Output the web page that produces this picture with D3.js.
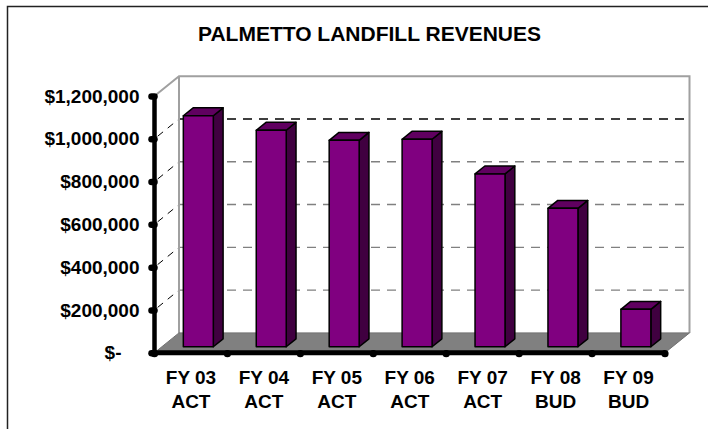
<!DOCTYPE html>
<html>
<head>
<meta charset="utf-8">
<script src="https://cdn.jsdelivr.net/npm/d3@7"></script>
<style>
  body { margin: 0; background: #fff; }
  text { font-family: "Liberation Sans", Arial, sans-serif; font-weight: bold; fill: #000; }
</style>
</head>
<body>
<div id="chart"></div>
<script>
// Data
var categories = ["FY 03", "FY 04", "FY 05", "FY 06", "FY 07", "FY 08", "FY 09"];
var periods = ["ACT", "ACT", "ACT", "ACT", "ACT", "BUD", "BUD"];
var revenues = [1080000, 1012000, 965000, 970000, 808000, 647000, 175000];
var yTicks = [0, 200000, 400000, 600000, 800000, 1000000, 1200000];

var width = 708, height = 429;

// front plane of the 3D box and the depth offset
var plotLeft = 154.5, plotRight = 665, plotBottom = 352.7, plotTop = 96;
var depthX = 24.5, depthY = -19.8;
var f0 = 0.3, f1 = 0.7; // bar depth span (fraction of floor depth)

var svg = d3.select("#chart").append("svg")
  .attr("width", width)
  .attr("height", height);

// outer frame (only top/left visible in the picture)
svg.append("rect")
  .attr("x", 7.5).attr("y", 6.5)
  .attr("width", 740).attr("height", 460)
  .attr("fill", "none")
  .attr("stroke", "#222")
  .attr("stroke-width", 1.5);

svg.append("text")
  .attr("x", 369.5).attr("y", 41)
  .attr("text-anchor", "middle")
  .style("font-size", "21px")
  .text("PALMETTO LANDFILL REVENUES");

var x = d3.scaleBand()
  .domain(categories)
  .range([plotLeft, plotRight])
  .paddingInner(0.589)
  .paddingOuter(0.589 / 2);

var y = d3.scaleLinear()
  .domain([0, 1200000])
  .range([plotBottom, plotTop]);

// back wall
var wall = svg.append("g");
wall.append("rect")
  .attr("x", plotLeft + depthX).attr("y", y(1200000) + depthY)
  .attr("width", plotRight - plotLeft).attr("height", plotBottom - plotTop)
  .attr("fill", "#fff");

// gridlines on back wall and side wall
yTicks.slice(1, -1).forEach(function (v) {
  var col = v === 1000000 ? "#000" : "#808080";
  wall.append("line")
    .attr("x1", plotLeft + depthX).attr("x2", plotRight + depthX)
    .attr("y1", y(v) + depthY).attr("y2", y(v) + depthY)
    .attr("stroke", col)
    .attr("stroke-width", 1.4)
    .attr("stroke-dasharray", "9,7");
  wall.append("line")
    .attr("x1", plotLeft).attr("x2", plotLeft + depthX)
    .attr("y1", y(v)).attr("y2", y(v) + depthY)
    .attr("stroke", "#000")
    .attr("stroke-width", 1)
    .attr("stroke-dasharray", "7,6")
    .attr("stroke-dashoffset", -4);
});

// wall outline: side top edge, left/top/right edges of back wall
wall.append("path")
  .attr("d", "M" + plotLeft + "," + plotTop +
    "L" + (plotLeft + depthX) + "," + (plotTop + depthY) +
    "L" + (plotRight + depthX) + "," + (plotTop + depthY) +
    "L" + (plotRight + depthX) + "," + (plotBottom + depthY) +
    "M" + (plotLeft + depthX) + "," + (plotTop + depthY) +
    "L" + (plotLeft + depthX) + "," + (plotBottom + depthY))
  .attr("fill", "none")
  .attr("stroke", "#a0a0a0")
  .attr("stroke-width", 2);

// floor
svg.append("polygon")
  .attr("points", [
    [plotLeft, plotBottom], [plotRight, plotBottom],
    [plotRight + depthX, plotBottom + depthY], [plotLeft + depthX, plotBottom + depthY]
  ].join(" "))
  .attr("fill", "#808080")
  .attr("stroke", "#707070")
  .attr("stroke-width", 1);

// bars
var bw = x.bandwidth();
var ddx = depthX * (f1 - f0), ddy = depthY * (f1 - f0);
var bars = svg.append("g").selectAll("g")
  .data(categories)
  .join("g");

bars.each(function (c, i) {
  var g = d3.select(this);
  var bx = x(c) + depthX * f0;
  var by = y(revenues[i]) + depthY * f0;
  var bb = y(0) + depthY * f0;
  g.append("polygon")
    .attr("points", [[bx + bw, by], [bx + bw + ddx, by + ddy], [bx + bw + ddx, bb + ddy], [bx + bw, bb]].join(" "))
    .attr("fill", "#400040");
  g.append("polygon")
    .attr("points", [[bx, by], [bx + ddx, by + ddy], [bx + bw + ddx, by + ddy], [bx + bw, by]].join(" "))
    .attr("fill", "#600060");
  g.append("rect")
    .attr("x", bx).attr("y", by)
    .attr("width", bw).attr("height", bb - by)
    .attr("fill", "#800080");
  g.selectAll("polygon, rect")
    .attr("stroke", "#000")
    .attr("stroke-width", 1.5)
    .attr("stroke-linejoin", "round");
});

// y axis
var yAxis = svg.append("g")
  .attr("transform", "translate(" + plotLeft + ",0)")
  .call(d3.axisLeft(y).tickValues(yTicks).tickSize(3).tickPadding(12)
    .tickFormat(function (v) { return v === 0 ? "$-" : "$" + d3.format(",")(v); }));
yAxis.select(".domain").attr("stroke", "#000").attr("stroke-width", 4.5)
  .attr("d", "M0," + plotTop + "V" + plotBottom);
yAxis.selectAll(".tick line").attr("stroke", "#000").attr("stroke-width", 6.5)
  .attr("stroke-linecap", "round");
yAxis.selectAll(".tick text")
  .style("font-size", "19px")
  .attr("fill", "#000")
  .attr("dx", function (v) { return v === 0 ? -18 : 0; });

// x axis
svg.append("line")
  .attr("x1", plotLeft).attr("x2", plotRight)
  .attr("y1", plotBottom).attr("y2", plotBottom)
  .attr("stroke", "#000").attr("stroke-width", 5);

var bounds = categories.map(function (c) { return x(c) - (x.step() - bw) / 2; });
bounds.push(plotRight);
svg.append("g").selectAll("circle")
  .data(bounds)
  .join("circle")
  .attr("cx", function (d) { return d; })
  .attr("cy", plotBottom + 1)
  .attr("r", 3.6)
  .attr("fill", "#000");

var xl = svg.append("g").selectAll("text")
  .data(categories)
  .join("text")
  .attr("text-anchor", "middle")
  .style("font-size", "19px");
xl.append("tspan")
  .attr("x", function (c) { return x(c) + bw / 2; })
  .attr("y", 384)
  .text(function (c) { return c; });
xl.append("tspan")
  .attr("x", function (c) { return x(c) + bw / 2; })
  .attr("y", 408)
  .text(function (c, i) { return periods[i]; });
</script>
</body>
</html>
